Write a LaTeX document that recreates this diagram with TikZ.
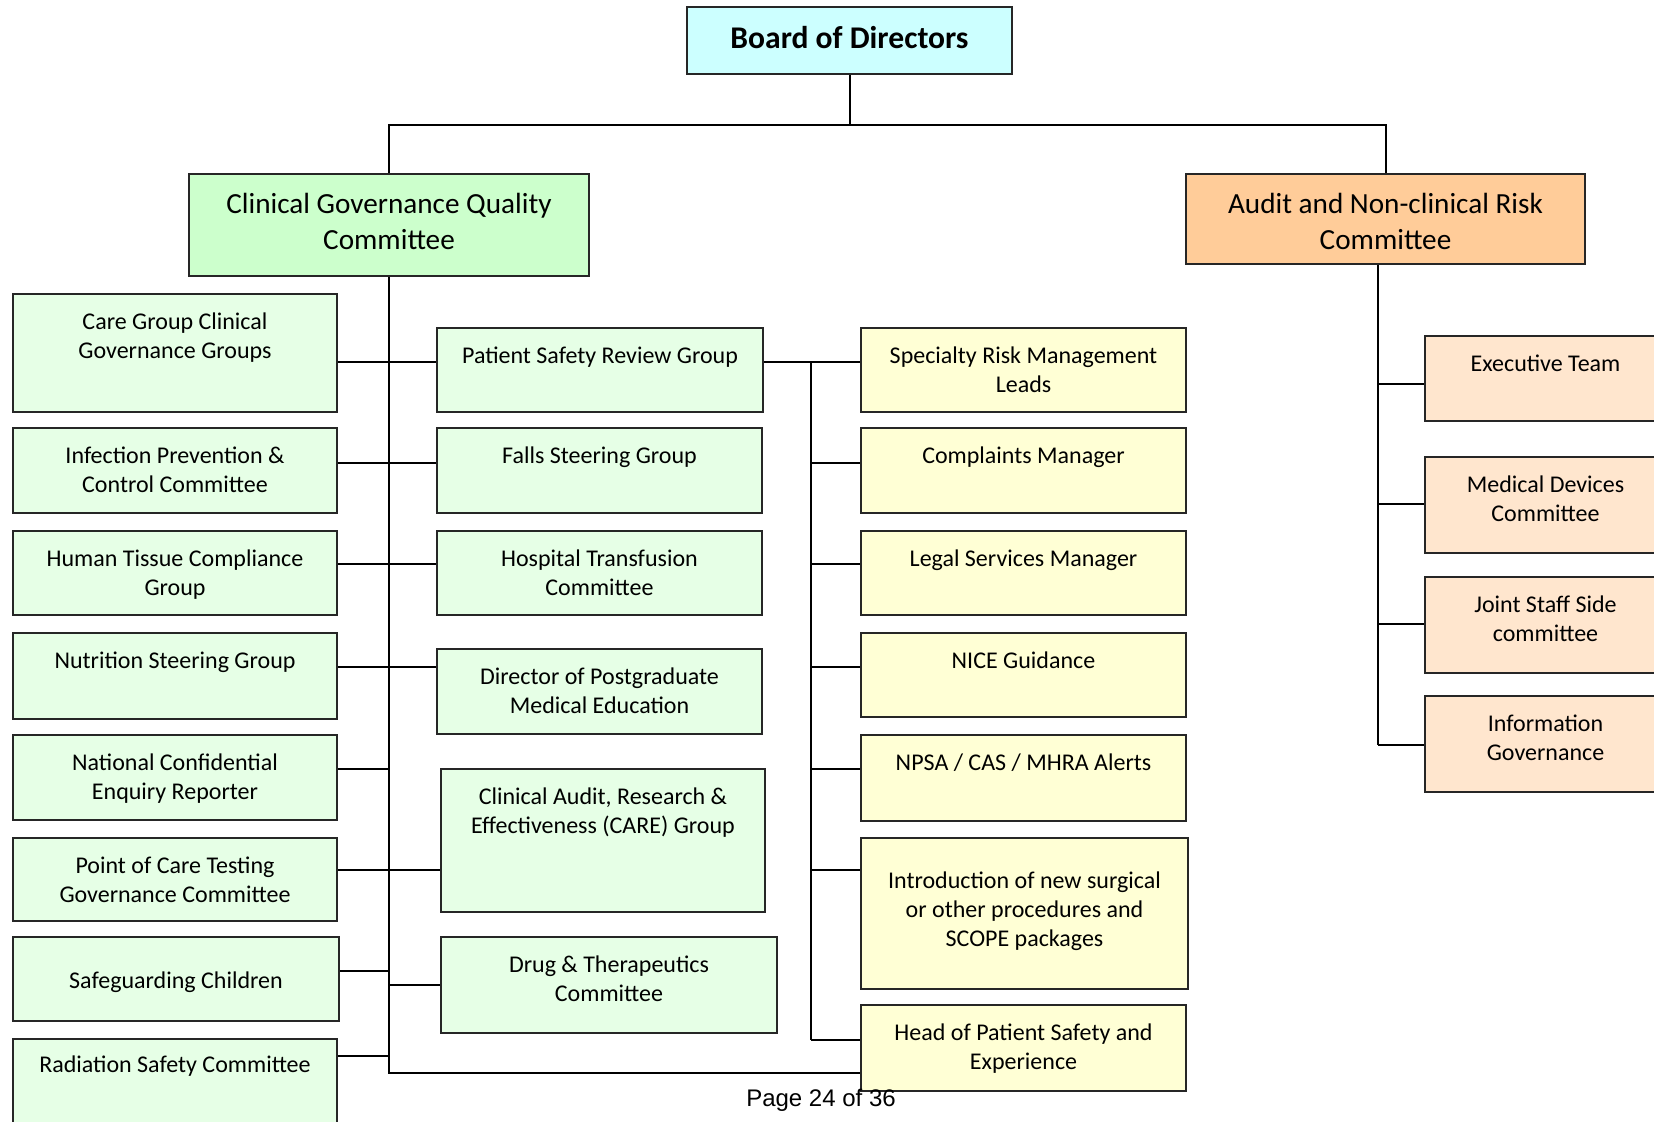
\documentclass[tikz,border=0pt]{standalone}
\usepackage{fontspec}
\setmainfont{Carlito}
\newfontfamily\pagefont{Liberation Sans}
\usetikzlibrary{fit}

\definecolor{boardfill}{HTML}{CCFFFF}
\definecolor{cgqcfill}{HTML}{CCFFCC}
\definecolor{subgreen}{HTML}{E6FFE6}
\definecolor{subyellow}{HTML}{FFFFD5}
\definecolor{auditfill}{HTML}{FFCC99}
\definecolor{subpeach}{HTML}{FFE6CE}
\definecolor{frame}{HTML}{262626}

\tikzset{
  box/.style={draw=frame, line width=1pt, inner sep=0pt},
  lbl/.style={inner sep=0pt, align=center, font=\fontsize{12}{14.5}\selectfont},
  ttl/.style={inner sep=0pt, align=center, font=\fontsize{14.6}{18}\selectfont},
  ttlb/.style={inner sep=0pt, align=center, font=\bfseries\fontsize{15.8}{18}\selectfont},
  link/.style={line width=1pt, black},
}

% name, x1, y1, x2, y2, fill, text style, text offset (pt), text
\newcommand\orgbox[9]{%
  \node[box, fill=#6, fit={(#2,#3) (#4,#5)}] (#1) {};
  \node[#7, anchor=north] (#1-t) at ([yshift=-#8pt]#1.north) {\strut #9};
}

\begin{document}
\begin{tikzpicture}[x=0.5pt, y=-0.5pt]
\useasboundingbox (0,0) rectangle (1654,1122);
\clip (0,0) rectangle (1654,1122);

% top level
\orgbox{bod}{687}{7}{1012}{74}{boardfill}{ttlb}{8.6}{Board of Directors}
\orgbox{cgqc}{189}{174}{589}{276}{cgqcfill}{ttl}{7.7}{Clinical Governance Quality\\Committee}
\orgbox{audit}{1186}{174}{1585}{264}{auditfill}{ttl}{7.7}{Audit and Non-clinical Risk\\Committee}

% left column
\orgbox{cg}{13}{294}{337}{412}{subgreen}{lbl}{7.8}{Care Group Clinical\\Governance Groups}
\orgbox{ipc}{13}{428}{337}{513}{subgreen}{lbl}{7.8}{Infection Prevention \&\\Control Committee}
\orgbox{htc}{13}{531}{337}{615}{subgreen}{lbl}{7.8}{Human Tissue Compliance\\Group}
\orgbox{nsg}{13}{633}{337}{719}{subgreen}{lbl}{7.8}{Nutrition Steering Group}
\orgbox{nce}{13}{735}{337}{820}{subgreen}{lbl}{7.8}{National Confidential\\Enquiry Reporter}
\orgbox{poc}{13}{838}{337}{921}{subgreen}{lbl}{7.8}{Point of Care Testing\\Governance Committee}
\orgbox{sgc}{13}{937}{339}{1021}{subgreen}{lbl}{15.85}{Safeguarding Children}
\orgbox{rsc}{13}{1039}{337}{1150}{subgreen}{lbl}{6.8}{Radiation Safety Committee}

% middle column
\orgbox{psr}{437}{328}{763}{412}{subgreen}{lbl}{7.8}{Patient Safety Review Group}
\orgbox{fsg}{437}{428}{762}{513}{subgreen}{lbl}{7.8}{Falls Steering Group}
\orgbox{htr}{437}{531}{762}{615}{subgreen}{lbl}{7.8}{Hospital Transfusion\\Committee}
\orgbox{dpme}{437}{649}{762}{734}{subgreen}{lbl}{7.8}{Director of Postgraduate\\Medical Education}
\orgbox{care}{441}{769}{765}{912}{subgreen}{lbl}{7.8}{Clinical Audit, Research \&\\Effectiveness (CARE) Group}
\orgbox{dtc}{441}{937}{777}{1033}{subgreen}{lbl}{7.8}{Drug \& Therapeutics\\Committee}

% patient safety column
\orgbox{srm}{861}{328}{1186}{412}{subyellow}{lbl}{7.8}{Specialty Risk Management\\Leads}
\orgbox{cm}{861}{428}{1186}{513}{subyellow}{lbl}{7.8}{Complaints Manager}
\orgbox{lsm}{861}{531}{1186}{615}{subyellow}{lbl}{7.8}{Legal Services Manager}
\orgbox{nice}{861}{633}{1186}{717}{subyellow}{lbl}{7.8}{NICE Guidance}
\orgbox{npsa}{861}{735}{1186}{821}{subyellow}{lbl}{7.8}{NPSA / CAS / MHRA Alerts}
\orgbox{intro}{861}{838}{1188}{989}{subyellow}{lbl}{15.35}{Introduction of new surgical\\or other procedures and\\SCOPE packages}
\orgbox{hps}{861}{1005}{1186}{1091}{subyellow}{lbl}{7.8}{Head of Patient Safety and\\Experience}

% audit column
\orgbox{exec}{1425}{336}{1666}{421}{subpeach}{lbl}{7.8}{Executive Team}
\orgbox{mdc}{1425}{457}{1666}{553}{subpeach}{lbl}{7.8}{Medical Devices\\Committee}
\orgbox{jss}{1425}{577}{1666}{673}{subpeach}{lbl}{7.8}{Joint Staff Side\\committee}
\orgbox{ig}{1425}{696}{1666}{792}{subpeach}{lbl}{7.8}{Information\\Governance}

% connector levels
\coordinate (bus) at (0,125);
\coordinate (r1) at (0,362);
\coordinate (r2) at (0,463);
\coordinate (r3) at (0,564);
\coordinate (r4) at (0,667);
\coordinate (r5) at (0,769);
\coordinate (r6) at (0,870);
\coordinate (r7) at (0,971);
\coordinate (rd) at (0,985);
\coordinate (r8) at (0,1056);
\coordinate (rb) at (0,1073);
\coordinate (yb) at (0,1040);
\coordinate (ys) at (811,0);
\coordinate (as) at (1378,0);
\coordinate (o1) at (0,384);
\coordinate (o2) at (0,504);
\coordinate (o3) at (0,624);
\coordinate (o4) at (0,745);

% board to committees
\draw[link] (bod.south) -- (bod.south |- bus);
\draw[link] (cgqc.north) -- (cgqc.north |- bus) -- (audit.north |- bus) -- (audit.north);

% clinical governance spine
\draw[link] (cgqc.south) -- (cgqc.south |- rb) -- (hps.west |- rb);
\foreach \a/\r in {cg/r1, ipc/r2, htc/r3, nsg/r4, nce/r5, poc/r6, sgc/r7, rsc/r8}
  \draw[link] (\a.east |- \r) -- (cgqc.south |- \r);
\foreach \b/\r in {psr/r1, fsg/r2, htr/r3, dpme/r4, care/r6, dtc/rd}
  \draw[link] (cgqc.south |- \r) -- (\b.west |- \r);

% patient safety spine
\draw[link] (psr.east |- r1) -- (srm.west |- r1);
\draw[link] (ys |- r1) -- (ys |- yb);
\foreach \c/\r in {cm/r2, lsm/r3, nice/r4, npsa/r5, intro/r6, hps/yb}
  \draw[link] (ys |- \r) -- (\c.west |- \r);

% audit spine
\draw[link] (audit.south -| as) -- (as |- o4);
\foreach \d/\r in {exec/o1, mdc/o2, jss/o3, ig/o4}
  \draw[link] (as |- \r) -- (\d.west |- \r);

% footer
\node[inner sep=0pt, anchor=base, font=\pagefont\fontsize{12}{14}\selectfont] (pg) at (821,1106) {Page 24 of 36};
\end{tikzpicture}
\end{document}
